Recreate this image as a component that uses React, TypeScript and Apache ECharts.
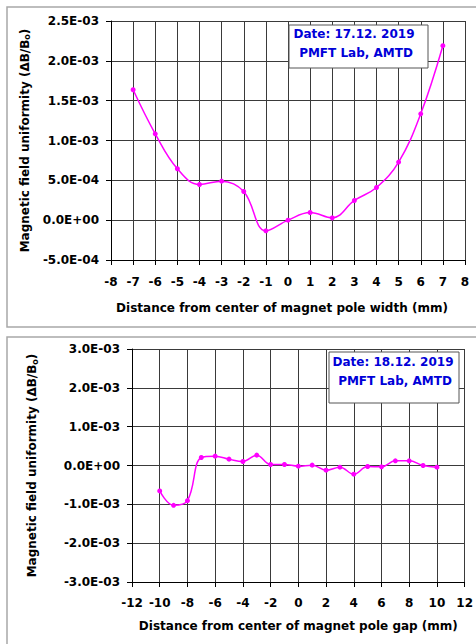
import React, { useEffect, useRef } from "react";
import * as echarts from "echarts";

// Panel 1: distance from center of magnet pole width (mm)
const widthX = [-7, -6, -5, -4, -3, -2, -1, 0, 1, 2, 3, 4, 5, 6, 7];
const widthY = [
  1.637e-3, 1.084e-3, 6.45e-4, 4.48e-4, 4.9e-4, 3.6e-4, -1.34e-4, 0, 9.6e-5,
  2.9e-5, 2.47e-4, 4.1e-4, 7.29e-4, 1.335e-3, 2.19e-3,
];

// Panel 2: distance from center of magnet pole gap (mm)
const gapX = [-10, -9, -8, -7, -6, -5, -4, -3, -2, -1, 0, 1, 2, 3, 4, 5, 6, 7, 8, 9, 10];
const gapY = [
  -6.55e-4, -1.026e-3, -9.05e-4, 2.07e-4, 2.41e-4, 1.64e-4, 1.03e-4, 2.67e-4,
  2.6e-5, 2.6e-5, -1.7e-5, 9e-6, -1.21e-4, -4.3e-5, -2.24e-4, -2.6e-5, -3.4e-5,
  1.21e-4, 1.21e-4, 0, -4.3e-5,
];

const legend1 = ["Date: 17.12. 2019", "PMFT Lab, AMTD"];
const legend2 = ["Date: 18.12. 2019", "PMFT Lab, AMTD"];
const xName1 = "Distance from center of magnet pole width (mm)";
const xName2 = "Distance from center of magnet pole gap (mm)";
const yName = "Magnetic field uniformity (ΔB/B{s|o})";

const FONT = "DejaVu Sans";
const MAGENTA = "#ff00ff";
const BLUE = "#0000d8";

function sci(v: number): string {
  if (Math.abs(v) < 1e-12) return "0.0E+00";
  const s = v.toExponential(1); // e.g. 2.5e-3
  const [m, e] = s.split("e");
  const ev = parseInt(e, 10);
  const sign = ev < 0 ? "-" : "+";
  const mag = Math.abs(ev).toString().padStart(2, "0");
  return `${m}E${sign}${mag}`;
}

const labelStyle = {
  color: "#000",
  fontFamily: FONT,
  fontWeight: "bold" as const,
  fontSize: 12,
};

function xAxis(grid: number, min: number, max: number, interval: number, name: string, gap: number, margin: number, pad: number[]) {
  return {
    type: "value",
    gridIndex: grid,
    min,
    max,
    interval,
    name,
    nameLocation: "middle",
    nameGap: gap,
    nameTextStyle: { ...labelStyle, padding: pad },
    axisLine: { show: true, onZero: false, lineStyle: { color: "#000", width: 1 } },
    axisTick: { show: true, length: 5, lineStyle: { color: "#000" } },
    splitLine: { show: true, lineStyle: { color: "#3a3a3a", width: 1 } },
    axisLabel: { ...labelStyle, margin, showMinLabel: true, showMaxLabel: true },
  };
}

function yAxis(grid: number, min: number, max: number, interval: number, gap: number) {
  return {
    type: "value",
    gridIndex: grid,
    min,
    max,
    interval,
    name: yName,
    nameLocation: "middle",
    nameGap: gap,
    nameRotate: 90,
    nameTextStyle: {
      ...labelStyle,
      rich: {
        s: {
          fontFamily: FONT,
          fontWeight: "bold",
          fontSize: 8,
          color: "#000",
          verticalAlign: "bottom",
          padding: [6, 0, 0, 0],
        },
      },
    },
    axisLine: { show: true, onZero: false, lineStyle: { color: "#000", width: 1 } },
    axisTick: { show: true, length: 5, lineStyle: { color: "#000" } },
    splitLine: { show: true, lineStyle: { color: "#3a3a3a", width: 1 } },
    axisLabel: { ...labelStyle, margin: 12, formatter: (v: number) => sci(v) },
  };
}

function legendBox(x: number, y: number, w: number, h: number, lines: string[], l1: number[], l2: number[]) {
  return {
    type: "group",
    z: 100,
    children: [
      {
        type: "rect",
        shape: { x, y, width: w, height: h },
        style: { fill: "#fff", stroke: "#555", lineWidth: 1 },
        z: 100,
      },
      {
        type: "text",
        x: l1[0],
        y: l1[1],
        z: 101,
        style: {
          text: lines[0],
          fill: BLUE,
          fontFamily: FONT,
          fontWeight: "bold",
          fontSize: 12,
          align: "center",
          verticalAlign: "middle",
        },
      },
      {
        type: "text",
        x: l2[0],
        y: l2[1],
        z: 101,
        style: {
          text: lines[1],
          fill: BLUE,
          fontFamily: FONT,
          fontWeight: "bold",
          fontSize: 12,
          align: "center",
          verticalAlign: "middle",
        },
      },
    ],
  };
}

export default function App() {
  const ref = useRef<HTMLDivElement>(null);
  useEffect(() => {
    if (!ref.current) return;
    const chart = echarts.init(ref.current, undefined, { renderer: "svg" });
    const seriesCommon = {
      type: "line",
      smooth: 0.4,
      symbol: "circle",
      symbolSize: 5,
      lineStyle: { color: MAGENTA, width: 1.5 },
      itemStyle: { color: MAGENTA },
      z: 5,
    };
    chart.setOption({
      animation: false,
      backgroundColor: "#fff",
      grid: [
        { left: 111, top: 21, width: 354, height: 239, containLabel: false },
        { left: 132, top: 349, width: 333, height: 233, containLabel: false },
      ],
      xAxis: [
        xAxis(0, -8, 8, 1, xName1, 42, 16, [0, 12, 0, 0]),
        xAxis(1, -12, 12, 2, xName2, 38, 15, [0, 0, 0, 0]),
      ],
      yAxis: [yAxis(0, -5e-4, 2.5e-3, 5e-4, 75), yAxis(1, -3e-3, 3e-3, 1e-3, 93)],
      series: [
        {
          ...seriesCommon,
          xAxisIndex: 0,
          yAxisIndex: 0,
          data: widthX.map((x, i) => [x, widthY[i]]),
        },
        {
          ...seriesCommon,
          xAxisIndex: 1,
          yAxisIndex: 1,
          data: gapX.map((x, i) => [x, gapY[i]]),
        },
      ],
      graphic: [
        {
          type: "rect",
          z: -1,
          shape: { x: 7, y: 7, width: 480, height: 320 },
          style: { fill: "none", stroke: "#a8a8a8", lineWidth: 1.5 },
        },
        {
          type: "rect",
          z: -1,
          shape: { x: 7, y: 337, width: 480, height: 320 },
          style: { fill: "none", stroke: "#a8a8a8", lineWidth: 1.5 },
        },
        legendBox(289, 25, 139, 43, legend1, [354, 34], [356, 53]),
        legendBox(329, 352, 130, 51, legend2, [393, 362], [395, 381]),
      ],
    });
    return () => chart.dispose();
  }, []);
  return (
    <div
      ref={ref}
      style={{ position: "absolute", left: 0, top: 0, width: 476, height: 644 }}
    />
  );
}
